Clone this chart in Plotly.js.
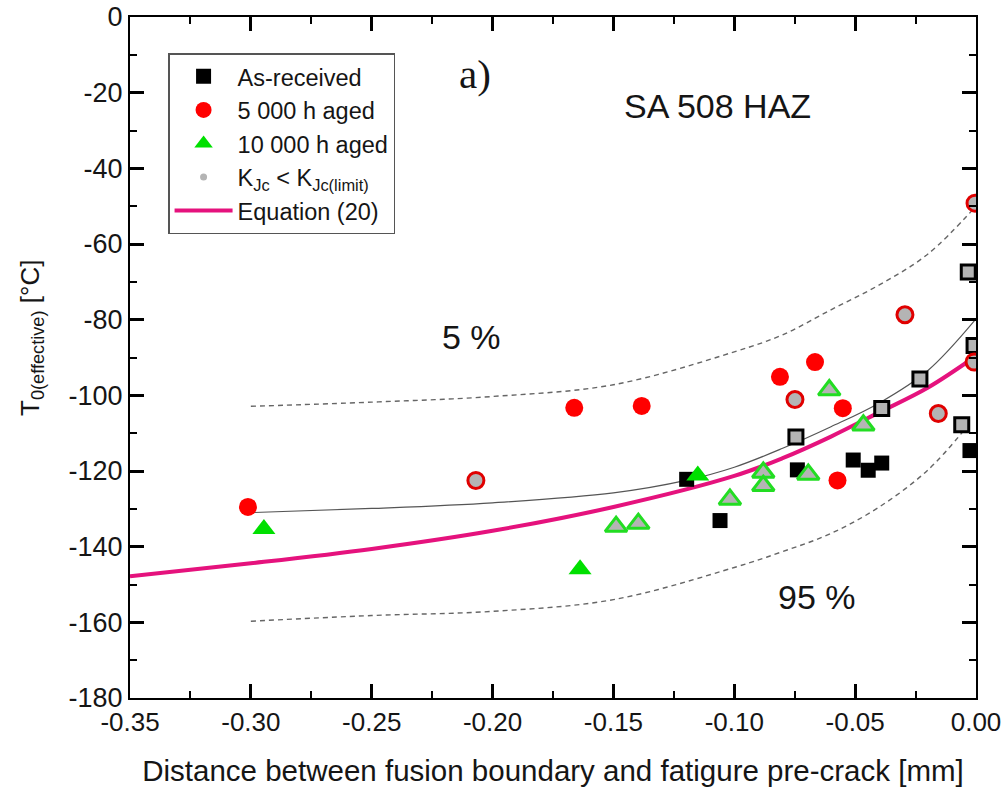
<!DOCTYPE html>
<html>
<head>
<meta charset="utf-8">
<script src="https://cdn.plot.ly/plotly-3.0.1.min.js"></script>
<style>html,body{margin:0;padding:0;background:#fff;}#chart{width:1005px;height:792px;}</style>
</head>
<body>
<div id="chart"></div>
<script>
// Tick labels (hyphen minus as in the reference)
const xTickVals = [-0.35, -0.30, -0.25, -0.20, -0.15, -0.10, -0.05, 0.00];
const xTickText = ['-0.35', '-0.30', '-0.25', '-0.20', '-0.15', '-0.10', '-0.05', '0.00'];
const xMinorVals = [-0.325, -0.275, -0.225, -0.175, -0.125, -0.075, -0.025];
const yTickVals = [0, -20, -40, -60, -80, -100, -120, -140, -160, -180];
const yTickText = ['0', '-20', '-40', '-60', '-80', '-100', '-120', '-140', '-160', '-180'];
const yMinorVals = [-10, -30, -50, -70, -90, -110, -130, -150, -170];

// As-received (filled black squares)
const asRecX = [-0.1197, -0.1059, -0.0739, -0.0508, -0.0446, -0.0390, -0.0025];
const asRecY = [-122.2, -133.1, -119.7, -117.1, -119.8, -117.9, -114.6];
// As-received, KJc < KJc(limit)
const asRecLimX = [-0.0745, -0.0390, -0.0232, -0.0059, -0.0008, -0.0032];
const asRecLimY = [-111.0, -103.5, -95.7, -107.8, -86.8, -67.4];
// 5 000 h aged (filled red circles)
const aged5X = [-0.3012, -0.1662, -0.1383, -0.0811, -0.0666, -0.0551, -0.0573];
const aged5Y = [-129.5, -103.3, -102.8, -95.1, -91.2, -103.4, -122.5];
// 5 000 h aged, KJc < KJc(limit)
const aged5LimX = [-0.2069, -0.0749, -0.0294, -0.0156, -0.0008, -0.0004];
const aged5LimY = [-122.5, -101.1, -78.7, -104.8, -91.2, -49.2];
// 10 000 h aged (filled green triangles)
const aged10X = [-0.2946, -0.1638, -0.1151];
const aged10Y = [-135.3, -146.0, -121.2];
// 10 000 h aged, KJc < KJc(limit)
const aged10LimX = [-0.1489, -0.1397, -0.1018, -0.0880, -0.0880, -0.0694, -0.0607, -0.0466];
const aged10LimY = [-134.7, -133.9, -127.5, -120.4, -123.9, -120.9, -98.6, -107.9];
// Equation (20)
const eqX = [-0.35, -0.30, -0.25, -0.20, -0.15, -0.10, -0.08, -0.06, -0.04, -0.02, 0.0];
const eqY = [-147.8, -144.4, -140.6, -135.8, -129.5, -121.3, -116.6, -110.9, -104.5, -98.0, -89.6];
// Median fit (thin grey)
const medX = [-0.30, -0.25, -0.20, -0.15, -0.12, -0.10, -0.08, -0.06, -0.04, -0.02, 0.0];
const medY = [-131.0, -129.9, -128.4, -125.8, -122.5, -119.0, -114.0, -108.3, -102.0, -93.5, -79.8];
// 5 % bound (upper dashed)
const upX = [-0.30, -0.25, -0.20, -0.15, -0.10, -0.08, -0.06, -0.04, -0.02, 0.0];
const upY = [-102.9, -101.8, -100.3, -97.2, -88.5, -84.0, -77.4, -70.8, -62.7, -50.0];
// 95 % bound (lower dashed)
const loX = [-0.30, -0.25, -0.20, -0.15, -0.10, -0.08, -0.06, -0.04, -0.02, -0.004];
const loY = [-159.7, -158.2, -157.1, -154.0, -145.5, -141.3, -136.5, -129.5, -119.8, -108.5];

const GREY = '#b4b4b4';
const MAG = '#e5127d';
const INK = '#151515';
const FONT = 'Arial, "Liberation Sans", sans-serif';

const M = {l: 130, r: 29, t: 17, b: 94};
const pw = 1005 - M.l - M.r, ph = 792 - M.t - M.b;
const XR = [-0.35, 0.0], YR = [-180, 0];

const traces = [
  {x: upX, y: upY, mode: 'lines', line: {color: '#666', width: 1.4, dash: '5px,4px', shape: 'spline'}, showlegend: false, hoverinfo: 'skip'},
  {x: loX, y: loY, mode: 'lines', line: {color: '#666', width: 1.4, dash: '5px,4px', shape: 'spline'}, showlegend: false, hoverinfo: 'skip'},
  {x: medX, y: medY, mode: 'lines', line: {color: '#555', width: 1.2, shape: 'spline'}, showlegend: false, hoverinfo: 'skip'},
  {x: eqX, y: eqY, mode: 'lines', line: {color: MAG, width: 4, shape: 'spline'}, showlegend: false},
  {x: asRecX, y: asRecY, mode: 'markers', name: 'As-received', marker: {symbol: 'square', color: '#000', size: 15}},
  {x: asRecLimX, y: asRecLimY, mode: 'markers', marker: {symbol: 'square', color: GREY, size: 14, line: {color: '#000', width: 3}}, showlegend: false},
  {x: aged5X, y: aged5Y, mode: 'markers', name: '5 000 h aged', marker: {symbol: 'circle', color: '#ff0000', size: 18}},
  {x: aged5LimX, y: aged5LimY, mode: 'markers', marker: {symbol: 'circle', color: GREY, size: 16, line: {color: '#e00000', width: 3}}, showlegend: false},
  {x: aged10X, y: aged10Y, mode: 'markers', name: '10 000 h aged', marker: {symbol: 'triangle-up', color: '#00e000', size: 20}},
  {x: aged10LimX, y: aged10LimY, mode: 'markers', marker: {symbol: 'triangle-up', color: GREY, size: 19, line: {color: '#22dd22', width: 3}}, showlegend: false},
  {x: [null], y: [null], mode: 'markers', name: 'K<sub>Jc</sub> < K<sub>Jc(limit)</sub>', marker: {symbol: 'circle', color: GREY, size: 7}},
  {x: [null], y: [null], mode: 'lines', name: 'Equation (20)', line: {color: MAG, width: 4}}
];

function axisBase() {
  return {
    showline: true, linecolor: '#000', linewidth: 2.2, mirror: 'allticks',
    ticks: 'inside', ticklen: 14, tickwidth: 2.6, tickcolor: '#000',
    showgrid: false, zeroline: false
  };
}

const layout = {
  width: 1005, height: 792,
  margin: M,
  paper_bgcolor: '#fff', plot_bgcolor: '#fff',
  font: {family: FONT, color: INK},
  xaxis: Object.assign(axisBase(), {
    range: XR, tickmode: 'array', tickvals: xTickVals, ticktext: xTickText,
    minor: {tickmode: 'array', tickvals: xMinorVals, ticks: 'inside', ticklen: 7, tickwidth: 2, tickcolor: '#000', showgrid: false},
    tickfont: {family: FONT, size: 26, color: INK},
    title: {text: 'Distance between fusion boundary and fatigure pre-crack [mm]', font: {family: FONT, size: 29.5, color: INK}, standoff: 24}
  }),
  yaxis: Object.assign(axisBase(), {
    range: YR, tickmode: 'array', tickvals: yTickVals, ticktext: yTickText,
    minor: {tickmode: 'array', tickvals: yMinorVals, ticks: 'inside', ticklen: 7, tickwidth: 2, tickcolor: '#000', showgrid: false},
    tickfont: {family: FONT, size: 27, color: INK},
    title: {text: ''}
  }),
  legend: {
    x: 0.045, y: 0.947, xanchor: 'left', yanchor: 'top',
    bgcolor: '#fff', bordercolor: '#555', borderwidth: 1.5,
    font: {family: FONT, size: 23.5, color: INK}, traceorder: 'normal', itemwidth: 58
  },
  annotations: []
};

// annotation texts and their pixel positions, converted to paper coords
const annTexts = ['a)', 'SA 508 HAZ', '5 %', '95 %', 'T<sub>0(effective)</sub> [°C]'];
const annPos = [[475, 74], [717, 106], [471, 337], [817, 597], [31, 338]];
const annFonts = [
  {family: '"Liberation Serif", "Times New Roman", serif', size: 41, color: INK},
  {family: FONT, size: 34, color: INK},
  {family: FONT, size: 34, color: INK},
  {family: FONT, size: 34, color: INK},
  {family: FONT, size: 26, color: INK}
];
annTexts.forEach((t, i) => {
  layout.annotations.push({
    text: t, showarrow: false, xref: 'paper', yref: 'paper',
    x: (annPos[i][0] - M.l) / pw, y: (792 - M.b - annPos[i][1]) / ph,
    xanchor: 'center', yanchor: 'middle', font: annFonts[i],
    textangle: i === 4 ? -90 : 0
  });
});

Plotly.newPlot('chart', traces, layout, {displayModeBar: false});
</script>
</body>
</html>
